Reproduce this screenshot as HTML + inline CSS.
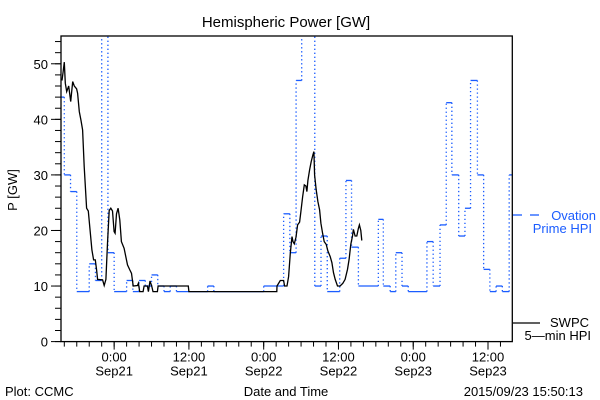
<!DOCTYPE html>
<html><head><meta charset="utf-8"><style>
body{margin:0;background:#fff;}
svg{display:block;font-family:"Liberation Sans",sans-serif;}
</style></head><body>
<svg id="chart" width="600" height="400" viewBox="0 0 600 400" xmlns="http://www.w3.org/2000/svg">
<rect width="600" height="400" fill="#fff"/>
<text x="286" y="27" font-size="15" text-anchor="middle" fill="#000">Hemispheric Power [GW]</text>
<defs><clipPath id="pc"><rect x="61" y="36" width="451" height="306"/></clipPath></defs>
<g id="ticks"></g>
<g id="series" clip-path="url(#pc)"></g>
<rect x="61" y="36" width="451.3" height="305.6" fill="none" stroke="#000" stroke-width="1.3"/>
<text transform="translate(17,190) rotate(-90)" font-size="13" text-anchor="middle">P [GW]</text>
<text x="286" y="396" font-size="13" text-anchor="middle">Date and Time</text>
<text x="5" y="396" font-size="13">Plot: CCMC</text>
<text x="583" y="396" font-size="13" text-anchor="end">2015/09/23 15:50:13</text>
<g>
<line x1="513" y1="215" x2="522" y2="215" stroke="#1a5cff" stroke-width="1.3"/>
<line x1="530" y1="215" x2="539" y2="215" stroke="#1a5cff" stroke-width="1.3"/>
<text x="596" y="220" font-size="13" text-anchor="end" fill="#1a5cff">Ovation</text>
<text x="592" y="233" font-size="13" text-anchor="end" fill="#1a5cff">Prime HPI</text>
</g>
<g>
<line x1="513" y1="323" x2="540" y2="323" stroke="#000" stroke-width="1.3"/>
<text x="589" y="327" font-size="13" text-anchor="end">SWPC</text>
<text x="591" y="340" font-size="13" text-anchor="end">5—min HPI</text>
</g>
</svg>
<script>
const yTicks=[0,10,20,30,40,50];
const xTickHours=[0,12,24,36,48,60];
const xTickTimes=["0:00","12:00","0:00","12:00","0:00","12:00"];
const xTickDates=["Sep21","Sep21","Sep22","Sep22","Sep23","Sep23"];
const blueT=[-9,-8,-7,-6,-4,-3,-2,-1,0,2,3,4,5,6,7,8,9,10,15,16,24,27.2,28.2,29.2,30.1,32.2,33.2,34.2,36.2,37.2,38.1,39.2,42.4,43.2,44.3,45.2,46.2,47.2,50.2,51.2,52.3,53.3,54.2,55.3,56.3,57.2,58.3,59.3,60.3,61.3,62.3,63.4];
const blueV=[44,30,27,9,14,11,70,16,9,11,9,11,10,12,10,9,10,9,10,9,10,23,16,47,70,10,19,9,15,29,17,10,22,10,9,16,10,9,18,10,21,43,30,19,24,47,30,13,9,10,9,30];
const blackT=[-8.37,-8.2,-8.0,-7.84,-7.62,-7.3,-6.98,-6.66,-6.39,-6.02,-5.86,-5.6,-5.33,-5.06,-4.8,-4.42,-4.15,-3.89,-3.57,-3.3,-3.03,-2.82,-2.66,-1.86,-1.6,-1.33,-1.06,-0.8,-0.53,-0.26,0,0.16,0.37,0.64,0.9,1.17,1.6,1.87,2.14,2.51,2.78,3.05,3.74,3.9,4.1,4.65,4.8,5.34,5.5,5.76,6.03,6.24,6.94,7.05,11.9,12.0,26.1,26.14,26.67,27.2,27.36,27.74,28.0,28.27,28.54,28.7,28.91,29.18,29.45,29.77,29.98,30.25,30.51,30.78,30.94,31.1,31.37,31.63,31.9,32.06,32.17,32.43,32.7,32.97,33.18,33.45,33.71,34.03,34.3,34.67,34.94,35.2,35.47,35.85,36.27,36.7,37.07,37.45,37.71,37.98,38.25,38.4,38.67,38.94,39.2,39.36,39.58,39.74];
const blackV=[47,48.5,50.3,46.5,45,46,43.2,46.8,46,45.5,44.7,41.4,39.9,38.1,31.5,24,23.5,20.4,16.5,14.7,14.7,12.9,11.2,11.1,10.1,11.2,17.7,23.6,24,23.5,19.8,19.5,23,24,21.9,18,16.8,15.3,13.8,12.9,12.3,10,10.1,10.5,9,9,10,10,9,10.9,10,9,9,10,10,9,9,10,11,11,10,10,11.7,15.9,18.9,18,17.6,18.8,21,21.5,23.4,26,28.2,28,27,29,30.9,32.4,33.6,34.2,30,27.3,25.2,23.7,21.3,19.5,18,17.5,16.3,15.3,14.2,12.4,11.2,10,10,10.5,11.2,13,14.8,17.5,19,20.2,19,19,20.4,21,20,18.2];
const H0=-8.53,H1=63.9,X0=61,X1=512.3,Y0=341.6,YT=36,VMAX=55;
function xs(h){return X0+(h-H0)/(H1-H0)*(X1-X0);}
function ys(v){return Y0-v/VMAX*(Y0-YT);}
const NS="http://www.w3.org/2000/svg";
function mk(tag,attrs,parent){const e=document.createElementNS(NS,tag);for(const k in attrs)e.setAttribute(k,attrs[k]);parent.appendChild(e);return e;}
const tg=document.getElementById('ticks'),sg=document.getElementById('series');
// y ticks
for(let v=0;v<=VMAX;v+=2){const y=ys(v);const l=mk('line',{x1:X0-6,x2:X0,y1:y,y2:y,stroke:'#000','stroke-width':1},tg);

}
yTicks.forEach(v=>{const y=ys(v);const l=mk('line',{x1:X0-10,x2:X0,y1:y,y2:y,stroke:'#000','stroke-width':1},tg);


const t=mk('text',{x:X0-13,y:y+5,'font-size':13,'text-anchor':'end'},tg);t.textContent=v;

});
// x ticks
for(let h=-8;h<=H1;h+=2){const x=xs(h);const l=mk('line',{x1:x,x2:x,y1:Y0,y2:Y0+5,stroke:'#000','stroke-width':1},tg);

}
xTickHours.forEach((h,i)=>{const x=xs(h);const l=mk('line',{x1:x,x2:x,y1:Y0,y2:Y0+8,stroke:'#000','stroke-width':1},tg);


const t=mk('text',{x:x,y:Y0+20,'font-size':13,'text-anchor':'middle'},tg);t.textContent=xTickTimes[i];


const d=mk('text',{x:x,y:Y0+34,'font-size':13,'text-anchor':'middle'},tg);d.textContent=xTickDates[i];

});
// blue step series
const bg=mk('g',{},sg);


for(let i=0;i<blueT.length;i++){const xa=xs(blueT[i]),xb=xs(i+1<blueT.length?blueT[i+1]:H1),y=ys(blueV[i]);
const s=mk('line',{x1:xa,x2:xb,y1:y,y2:y,stroke:'#1a5cff','stroke-width':1.3},bg);


if(i+1<blueT.length){const v=mk('line',{x1:xb,x2:xb,y1:y,y2:ys(blueV[i+1]),stroke:'#1a5cff','stroke-width':1.3,'stroke-dasharray':'1.3,2.7'},bg);

}}
// black line
const pts=blackT.map((t,i)=>xs(t).toFixed(1)+','+ys(blackV[i]).toFixed(1)).join(' ');
const pl=mk('polyline',{points:pts,fill:'none',stroke:'#000','stroke-width':1.3},sg);


</script>
</body></html>
